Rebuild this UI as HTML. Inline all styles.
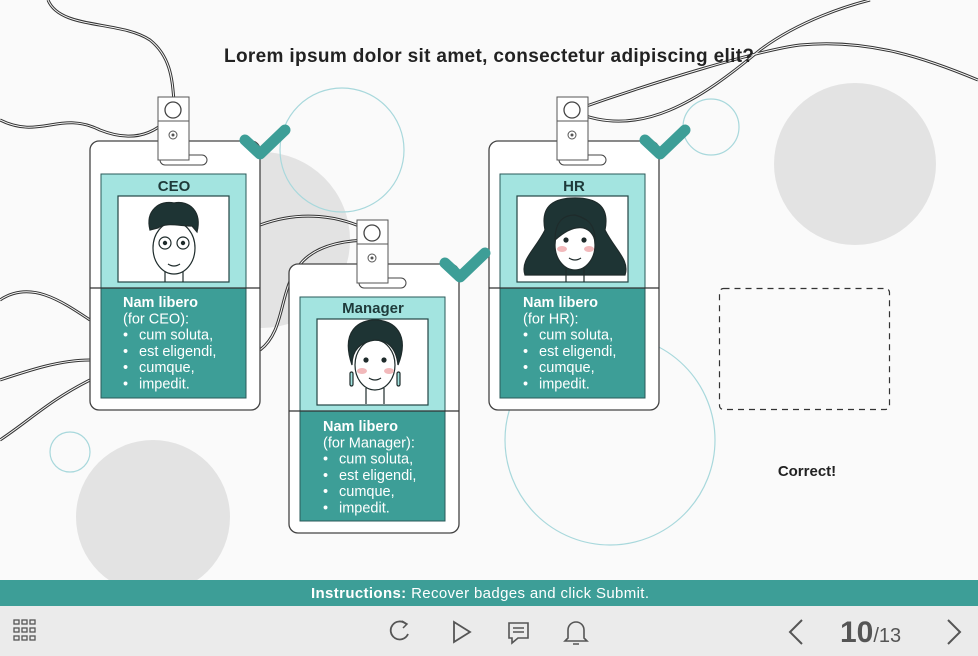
<!DOCTYPE html>
<html><head><meta charset="utf-8"><style>
html,body{margin:0;padding:0;background:#fafafa;}
svg{display:block;font-family:"Liberation Sans",sans-serif;}
</style></head><body>
<svg width="978" height="656" viewBox="0 0 978 656" xmlns="http://www.w3.org/2000/svg">
<rect width="978" height="656" fill="#fafafa"/>
<circle cx="855" cy="164" r="81" fill="#e3e3e3"/>
<circle cx="153" cy="517" r="77" fill="#e3e3e3"/>
<circle cx="262" cy="240" r="88" fill="#e3e3e3"/>
<circle cx="342" cy="150" r="62" fill="none" stroke="#a8d8dc" stroke-width="1.2"/>
<circle cx="711" cy="127" r="28" fill="none" stroke="#a8d8dc" stroke-width="1.2"/>
<circle cx="70" cy="452" r="20" fill="none" stroke="#a8d8dc" stroke-width="1.2"/>
<circle cx="610" cy="440" r="105" fill="none" stroke="#a8d8dc" stroke-width="1.2"/>
<g fill="none" stroke="#333" stroke-width="3">
<path d="M48 0 C60 30 120 20 150 40 C175 60 172 90 175 110"/>
<path d="M0 120 C40 140 60 110 100 130 C150 150 170 115 175 112"/>
<path d="M0 300 C30 280 60 300 90 320 M0 380 C30 370 60 360 90 360"/>
<path d="M260 225 C300 210 340 215 372 232"/>
<path d="M260 350 C300 320 260 240 372 240"/>
<path d="M575 110 C660 80 760 50 800 45 C870 38 930 60 978 80"/>
<path d="M575 112 C640 140 700 100 760 50 C800 20 850 5 870 0"/>
<path d="M0 440 C30 420 50 400 90 380"/>
</g>
<g fill="none" stroke="#fafafa" stroke-width="1">
<path d="M48 0 C60 30 120 20 150 40 C175 60 172 90 175 110"/>
<path d="M0 120 C40 140 60 110 100 130 C150 150 170 115 175 112"/>
<path d="M0 300 C30 280 60 300 90 320 M0 380 C30 370 60 360 90 360"/>
<path d="M260 225 C300 210 340 215 372 232"/>
<path d="M260 350 C300 320 260 240 372 240"/>
<path d="M575 110 C660 80 760 50 800 45 C870 38 930 60 978 80"/>
<path d="M575 112 C640 140 700 100 760 50 C800 20 850 5 870 0"/>
<path d="M0 440 C30 420 50 400 90 380"/>
</g>
<text x="489" y="62" text-anchor="middle" font-size="19" font-weight="bold" fill="#222" textLength="530">Lorem ipsum dolor sit amet, consectetur adipiscing elit?</text>

<defs>
<g id="badge">
<rect x="0" y="0" width="170" height="269" rx="9" fill="#fff" stroke="#444" stroke-width="1.3"/>
<rect x="11" y="33" width="145" height="114" fill="#a3e4e0" stroke="#2a5a58" stroke-width="1"/>
<rect x="11" y="147" width="145" height="110" fill="#3d9e97" stroke="#2a5a58" stroke-width="1"/>
<line x1="0" y1="147" x2="170" y2="147" stroke="#333" stroke-width="1.3"/>
<rect x="28" y="55" width="111" height="86" fill="#fff" stroke="#244" stroke-width="1.2"/>
<rect x="70" y="14" width="47" height="10" rx="5" fill="#fff" stroke="#444"/>
<rect x="68" y="-44" width="31" height="63" fill="#fff" stroke="#555"/>
<line x1="68" y1="-20" x2="99" y2="-20" stroke="#555"/>
<circle cx="83" cy="-6" r="4" fill="none" stroke="#555"/>
<circle cx="83" cy="-6" r="1.5" fill="#555"/>
<circle cx="83" cy="-31" r="8" fill="none" stroke="#444" stroke-width="1.3"/>
</g>
<path id="chk" d="M0 0 L15 14 L40 -10" fill="none" stroke="#3d9e97" stroke-width="11" stroke-linecap="round" stroke-linejoin="round"/>
</defs>

<use href="#badge" x="90" y="141"/>
<use href="#badge" x="289" y="264"/>
<use href="#badge" x="489" y="141"/>
<use href="#chk" x="245" y="140"/>
<use href="#chk" x="445" y="263"/>
<use href="#chk" x="645" y="140"/>

<g font-weight="bold" font-size="15" fill="#1e3a3a" text-anchor="middle">
<text x="174" y="191">CEO</text>
<text x="373" y="313">Manager</text>
<text x="574" y="191">HR</text>
</g>

<g stroke="#1e2b2b" stroke-width="1.2">
<line x1="165" y1="265" x2="165" y2="282"/><line x1="183" y1="265" x2="183" y2="282"/>
<ellipse cx="174" cy="248" rx="21" ry="26" fill="#fff"/>
<path d="M150 230 C145 210 160 200 174 203 C190 200 202 212 197 232 L192 226 C180 226 165 222 158 228 Z" fill="#1e3434"/>
<circle cx="165" cy="243" r="6" fill="none"/><circle cx="183" cy="243" r="6" fill="none"/>
<circle cx="165" cy="243" r="1.6" fill="#1e2b2b"/><circle cx="183" cy="243" r="1.6" fill="#1e2b2b"/>
<path d="M168 264 Q174 268 180 264" fill="none"/>
<line x1="366" y1="388" x2="366" y2="404"/><line x1="384" y1="388" x2="384" y2="404"/>
<ellipse cx="375" cy="365" rx="20" ry="25" fill="#fff"/>
<path d="M352 365 C340 330 360 320 375 320 C395 320 410 335 398 365 C396 345 385 340 375 340 C360 342 352 350 352 365 Z" fill="#1e3434"/>
<circle cx="366" cy="360" r="2" fill="#1e2b2b"/><circle cx="384" cy="360" r="2" fill="#1e2b2b"/>
<ellipse cx="362" cy="371" rx="5" ry="3" fill="#f2b9bb" stroke="none"/><ellipse cx="389" cy="371" rx="5" ry="3" fill="#f2b9bb" stroke="none"/>
<path d="M369 378 Q375 382 381 378" fill="none"/>
<rect x="350" y="372" width="3" height="14" rx="1.5" fill="#a3e4e0"/><rect x="397" y="372" width="3" height="14" rx="1.5" fill="#a3e4e0"/>
<path d="M545 230 C535 250 520 260 525 275 L625 275 C630 260 615 250 605 230 C610 205 595 198 575 198 C555 198 540 205 545 230 Z" fill="#1e3434"/>
<line x1="566" y1="265" x2="566" y2="282"/><line x1="584" y1="265" x2="584" y2="282"/>
<ellipse cx="575" cy="245" rx="20" ry="25" fill="#fff"/>
<path d="M555 240 C555 220 565 215 575 215 C585 218 595 222 595 240 C590 225 575 222 555 240 Z" fill="#1e3434"/>
<circle cx="566" cy="240" r="2" fill="#1e2b2b"/><circle cx="584" cy="240" r="2" fill="#1e2b2b"/>
<ellipse cx="562" cy="249" rx="5" ry="3" fill="#f2b9bb" stroke="none"/><ellipse cx="589" cy="249" rx="5" ry="3" fill="#f2b9bb" stroke="none"/>
<path d="M569 258 Q575 262 581 258" fill="none"/>
</g>

<g fill="#fff" font-size="14.5">
<text x="123" y="307"><tspan font-weight="bold">Nam libero</tspan><tspan x="123" dy="16.3">(for CEO):</tspan><tspan x="123" dy="16.3">•</tspan><tspan x="139">cum soluta,</tspan><tspan x="123" dy="16.3">•</tspan><tspan x="139">est eligendi,</tspan><tspan x="123" dy="16.3">•</tspan><tspan x="139">cumque,</tspan><tspan x="123" dy="16.3">•</tspan><tspan x="139">impedit.</tspan></text>
<text x="323" y="431"><tspan font-weight="bold">Nam libero</tspan><tspan x="323" dy="16.3">(for Manager):</tspan><tspan x="323" dy="16.3">•</tspan><tspan x="339">cum soluta,</tspan><tspan x="323" dy="16.3">•</tspan><tspan x="339">est eligendi,</tspan><tspan x="323" dy="16.3">•</tspan><tspan x="339">cumque,</tspan><tspan x="323" dy="16.3">•</tspan><tspan x="339">impedit.</tspan></text>
<text x="523" y="307"><tspan font-weight="bold">Nam libero</tspan><tspan x="523" dy="16.3">(for HR):</tspan><tspan x="523" dy="16.3">•</tspan><tspan x="539">cum soluta,</tspan><tspan x="523" dy="16.3">•</tspan><tspan x="539">est eligendi,</tspan><tspan x="523" dy="16.3">•</tspan><tspan x="539">cumque,</tspan><tspan x="523" dy="16.3">•</tspan><tspan x="539">impedit.</tspan></text>
</g>

<rect x="719.5" y="288.5" width="170" height="121" rx="4" fill="none" stroke="#333" stroke-width="1.2" stroke-dasharray="6 5"/>
<text x="807" y="476" text-anchor="middle" font-size="15" font-weight="bold" fill="#222">Correct!</text>

<rect x="0" y="580" width="978" height="26" fill="#3d9e97"/>
<text x="480" y="598" text-anchor="middle" font-size="15" fill="#fff" textLength="338"><tspan font-weight="bold">Instructions:</tspan> Recover badges and click Submit.</text>
<rect x="0" y="606" width="978" height="50" fill="#ebebeb"/>
<g fill="none" stroke="#555" stroke-width="1.3">
<rect x="14" y="620" width="5" height="4"/><rect x="22" y="620" width="5" height="4"/><rect x="30" y="620" width="5" height="4"/>
<rect x="14" y="628" width="5" height="4"/><rect x="22" y="628" width="5" height="4"/><rect x="30" y="628" width="5" height="4"/>
<rect x="14" y="636" width="5" height="4"/><rect x="22" y="636" width="5" height="4"/><rect x="30" y="636" width="5" height="4"/>
<path d="M406 624 A9 9 0 1 0 408 634" stroke-width="1.8"/><path d="M402 621 L407 624 L403 628" stroke-width="1.5"/>
<path d="M454 622 L470 632 L454 642 Z" stroke-width="1.8"/>
<path d="M509 623 H528 V638 H518 L512 643 V638 H509 Z" stroke-width="1.6"/><path d="M513 628 H524 M513 632 H524" stroke-width="1.4"/>
<path d="M568 638 V630 A8 8 0 0 1 584 630 V638 L587 641 H565 Z M573 644 H579" stroke-width="1.6"/>
<path d="M802 620 L790 632 L802 644" stroke-width="2"/>
<path d="M948 620 L960 632 L948 644" stroke-width="2"/>
</g>
<text x="840" y="642" font-size="30" font-weight="bold" fill="#555">10<tspan font-size="20" font-weight="normal">/13</tspan></text>
</svg>
</body></html>
